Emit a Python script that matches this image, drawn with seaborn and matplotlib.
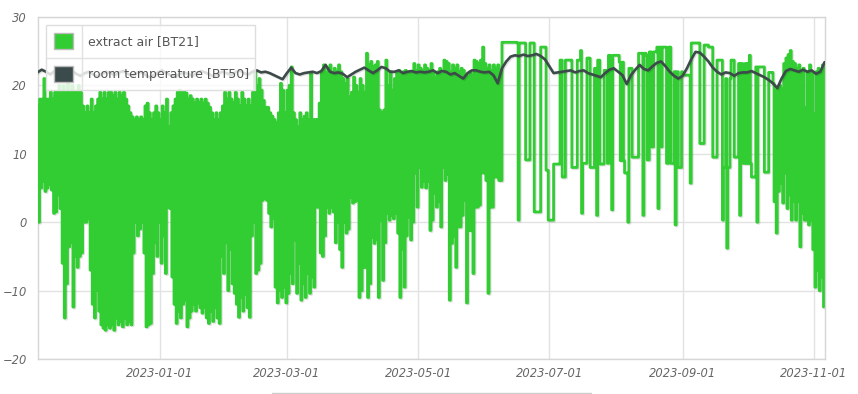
import numpy as np
import pandas as pd
import matplotlib
matplotlib.use("Agg")
import matplotlib.pyplot as plt
import matplotlib.dates as mdates
import matplotlib.patheffects as pe
from matplotlib.patches import Rectangle
from matplotlib.lines import Line2D
import seaborn as sns

# ---------------- data ----------------
# extract air [BT21]: two readings per day (first half / second half of the day), starting 2022-11-05
nov22_a = [17, 18, 18, 21, 18, 18, 19, 18, 19, 19, 20, 19, 20, 19, 22, 19, 20, 19, 19, 20, 19, 17, 16, 17, 16, 18]
nov22_b = [0, 5, 6, 4.5, 5, 5.5, 4.7, 1.3, 1.5, 4, 2, -6, -14, -9, -3.6, -3, -12.4, -5, -6.6, -5, -4.5, 0, 0, 0.5, -7, -12]
dec22_a = [16, 17, 18, 19, 18, 19, 18, 19, 19, 18.5, 19, 18, 19, 18.5, 19, 18, 17, 16, 15.4, 15, 15.4, 15, 15.4, 15, 17, 17.4, 16, 15, 16, 17, 16]
dec22_b = [-14, -10, -13, -15, -15.5, -15.8, -15, -15.5, -15, -15.8, -14, -15, -14.5, -15.3, -14, -15, -14.5, -15, -4.5, 0, -2, -1, 0, -4.5, -15.3, -15, -14.8, -7.5, -3, -5, 0]
jan23_a = [15, 17, 16, 18, 14, 16, 17, 18, 19, 19.3, 19, 19, 18.9, 18, 18.5, 18, 17.4, 18, 17.5, 18, 17.4, 18, 17.4, 16.8, 16, 15, 16, 15, 16, 17, 19]
jan23_b = [-6, -2, -7.5, 2.2, 2, -8, -12, -14.8, -13, -14, -12, -11.4, -15.3, -14, -13, -12, -13, -11.8, -12.5, -13.3, -12.4, -14, -14.8, -13, -14.5, -12.5, -14, -14.8, -5, -7.5, -3]
feb23_a = [18, 19, 18, 17.5, 19, 18, 17, 19, 18, 17, 18, 17, 19, 22.2, 20, 21, 19.3, 17.8, 16.8, 16.8, 16, 15.5, 15, 14.5, 16, 20.3, 19.3, 16]
feb23_b = [-10, -4, -9, -10.4, -12, -13.9, -11, -13, -10.5, -12.5, -13.9, -2, 0, -7.5, -7, -6, 3.2, 3.5, 3.2, 1.3, -0.7, 0.5, -9.5, -11.8, -10, -11, -9.5, -11.8]
mar23_a = [19.3, 20, 22.7, 16, 15, 14, 16, 15, 15.5, 16, 15, 21.8, 15, 15, 15, 17.4, 22, 23, 21.8, 22.5, 23, 21.8, 22.5, 22, 23, 22, 21, 20.3, 21, 18.3, 19]
mar23_b = [-10.4, -7.5, -9, -2.6, -10.4, -6, -11.4, -9, -11, -7.5, -10.4, -8, -9.5, 2.2, 2.2, -4.5, -5, -2, 2.2, 1.3, 2.2, 1.5, -3, 0, -4, -6.6, 0, -1.6, -1, 3.6, 2.8]
apr23_a = [21.2, 20, 19, 21, 20, 19, 24.7, 23, 23.5, 22.7, 23, 23.5, 16.4, 16, 16.4, 23.7, 20, 22, 19.3, 21, 22, 22.2, 21.8, 22, 22.2, 21.8, 22, 22, 23.2, 22.2]
apr23_b = [3, 3.2, -11, -10, -6.6, -6.6, -11, -9, -2.2, -3.1, -2.5, -11, 0.3, -8.5, -3, 1.3, 0.3, 1, 0.5, 1.3, -1.6, -11, -4, -9.5, -2, 0.7, -2.6, 0, 7.2, 2.2]
may23_a = [23, 22.5, 22.2, 23, 22.5, 22.2, 23.2, 22, 21.2, 22, 22.5, 21.5, 23.7, 23.5, 23.2, 22, 23, 22.5, 23, 22, 22.5, 22.2, 21.5, 21.2, 22, 21.5, 23.7, 23.5, 23.2, 23.7, 25.6]
may23_b = [8, 5.1, 6, 5, 6, -1.2, 0.3, 4.2, 2.2, 3, -0.7, 8, 6.1, 7, -11.4, -3.1, -2, -6.6, -0.7, -0.7, 1, 3.2, -11.8, -1.2, -1.2, -7.5, 2.2, 2.2, 2.5, 7.2, 7.2]
jun23_a = [23.2, 22.5, 23, 22.2, 23, 22.5, 23, 22.2, 26.3, 26.3, 26.3, 26.3, 26.3, 26.3, 26.3, 26.2, 26.2, 26.2, 26.2, 9.1, 9.1, 26.2, 26.2, 1.5, 1.5, 1.5, 25.6, 25.6, 25.6, 7.6]
jun23_b = [6.1, -10.4, 2.2, 2.2, 6.6, 6.6, 6.1, 6.1, 26.3, 26.3, 26.3, 26.3, 26.3, 26.3, 26.3, 0.3, 26.2, 26.2, 26.2, 9.1, 9.1, 26.2, 26.2, 1.5, 1.5, 1.5, 25.6, 25.6, 7.6, 0.3]
jul23_a = [0.3, 0.3, 8.5, 8.5, 8.5, 23.7, 6.6, 6.6, 23.7, 23.7, 23.7, 8, 8, 23.7, 23.7, 1.3, 8.6, 8.6, 24, 8, 8, 22.5, 1, 23.7, 8.5, 8.5, 22.2, 8.6, 24.4, 1.8, 24.4]
jul23_b = [0.3, 0.3, 8.5, 8.5, 8.5, 23.7, 6.6, 23.7, 23.7, 23.7, 8, 8, 8, 23.7, 25.1, 8.6, 8.6, 24, 24, 8, 8, 22.5, 23.7, 8.5, 8.5, 22.2, 22.2, 24.4, 8.6, 24.4, 24.4]
aug23_a = [24.4, 24.4, 9, 23.4, 7.2, 7.2, 22.5, 22.5, 9.5, 9.5, 9.5, 24.7, 24.7, 24.7, 24.4, 9.1, 24.9, 11, 24.9, 25.6, 25.6, 11, 25.6, 25.6, 8.6, 25.6, 8.6, 22, 22, 8, 8]
aug23_b = [24.4, 23.4, 9, 9, 7.2, 0, 22.5, 9.5, 9.5, 9.5, 24.7, 24.7, 1, 24.7, 9.1, 24.9, 11, 24.9, 24.9, 2, 25.6, 25.6, 25.6, 8.6, 25.6, 8.6, 8.6, -0.4, 22, 8, 22]
sep23_a = [21.5, 21.5, 21.5, 21.5, 26.2, 26.2, 26.2, 26.2, 11.5, 11.5, 25.9, 25.9, 25.6, 25.6, 9.5, 9.5, 23.7, 23.7, 23.7, 8, 21, 8, 21, 23.7, 9.5, 9.5, 23.2, 23.2, 8.6, 23.2]
sep23_b = [21.5, 21.5, 21.5, 5.7, 26.2, 26.2, 26.2, 26.2, 11.5, 11.5, 25.9, 25.9, 25.6, 25.6, 9.5, 9.5, 23.7, 23.7, 0.3, 8, -3.8, 8, 23.7, 23.7, 9.5, 9.5, 1, 23.2, 8.6, 8.6]
oct23_a = [23.2, 24.4, 6.6, 6.6, 22.7, 22.7, 22.7, 22.7, 7.3, 7.3, 21.9, 21.9, 20.3, 19.3, 19.5, 20, 19.5, 23.2, 24, 24.5, 25.1, 23.5, 23.2, 22.5, 23, 22, 22.5, 16.8, 22, 23, 22]
oct23_b = [8.6, 8.6, 6.6, 6.6, 0, 22.7, 22.7, 22.7, 7.3, 7.3, 21.9, 21.9, 3, -1.6, 4.5, 5.7, 2.8, 7.2, 2, 4, 0.3, 3, 0.3, 3, -3.6, 1.3, 0.3, 0.3, -0.4, 0.3, -4]
nov23_a = [15.9, 22, 22.5, 22, 23]
nov23_b = [-9.5, -7, -10, -8, -12.4]

# room temperature [BT50]: one reading every 2 days, starting 2022-11-05
bt50_q1 = [21.9, 22.3, 22.0, 21.6, 22.1, 21.8, 21.5, 21.9, 22.2, 21.7, 21.4, 21.8, 22.0, 21.6, 21.3, 21.7,
           22.0, 21.8, 21.5, 21.9, 22.1, 21.7, 21.4, 21.8, 22.0, 21.6, 21.2, 21.5, 21.9, 22.2, 21.8, 21.5,
           21.3, 21.6, 21.9, 21.7, 21.4, 21.8, 22.1, 21.9, 21.6, 21.3, 21.7, 22.0, 21.8, 21.5]
bt50_q2 = [21.9, 22.2, 21.8, 21.6, 22.0, 22.2, 21.9, 22.0, 21.8, 21.5, 21.2, 20.9, 21.8, 22.6, 21.8, 21.6,
           21.8, 21.9, 22.0, 21.8, 22.1, 23.0, 22.0, 21.8, 21.9, 21.7, 21.2, 21.6, 22.0, 22.3, 22.6, 22.2,
           21.8, 22.2, 22.7, 22.5, 22.0, 22.0, 22.2, 21.8, 22.0, 22.1, 21.9, 22.0, 21.9, 22.0]
bt50_q3 = [22.2, 21.8, 22.1, 22.0, 21.6, 21.8, 21.4, 21.0, 21.8, 22.2, 22.2, 22.0, 21.9, 22.0, 21.5, 20.3,
           22.5, 23.5, 24.2, 24.4, 24.3, 24.5, 24.3, 24.4, 24.6, 24.3, 23.8, 22.8, 21.8, 21.9, 22.0, 22.1,
           22.2, 21.9, 22.1, 22.2, 21.8, 21.6, 21.4, 21.2, 21.8, 22.3, 22.5, 22.0, 21.5, 20.2]
bt50_q4 = [21.5, 22.3, 23.0, 22.4, 22.2, 22.8, 23.3, 23.5, 22.8, 22.0, 21.4, 21.0, 21.4, 22.5, 23.8, 24.9,
           24.8, 24.2, 23.5, 22.6, 22.0, 21.6, 21.9, 21.8, 21.4, 21.8, 21.9, 21.9, 22.1, 21.8, 21.5, 21.2,
           20.8, 20.3, 19.6, 21.0, 22.1, 22.4, 22.2, 22.0, 22.3, 22.0, 22.2, 21.7, 22.0, 23.4]

# ---------------- build tables ----------------
start = pd.Timestamp("2022-11-05")
bt21_first = (nov22_a + dec22_a + jan23_a + feb23_a + mar23_a + apr23_a + may23_a
              + jun23_a + jul23_a + aug23_a + sep23_a + oct23_a + nov23_a)
bt21_second = (nov22_b + dec22_b + jan23_b + feb23_b + mar23_b + apr23_b + may23_b
               + jun23_b + jul23_b + aug23_b + sep23_b + oct23_b + nov23_b)
n = len(bt21_first)
days = pd.date_range(start, periods=n, freq="D")
times = np.empty(2 * n, dtype="datetime64[ns]")
times[0::2] = days.values
times[1::2] = (days + pd.Timedelta(hours=12)).values
vals = np.empty(2 * n)
vals[0::2] = bt21_first
vals[1::2] = bt21_second
df_bt21 = pd.DataFrame({"time": times, "value": vals})

bt50 = bt50_q1 + bt50_q2 + bt50_q3 + bt50_q4
df_bt50 = pd.DataFrame({"time": pd.date_range(start, periods=len(bt50), freq="2D"), "value": bt50})

# ---------------- figure ----------------
sns.set_style("white")
plt.rcParams["font.family"] = ["DejaVu Sans"]
plt.rcParams["path.simplify"] = False

W, H = 858, 394
fig = plt.figure(figsize=(W / 100, H / 100), dpi=100)
L, R, T, B = 38, 825, 17, 359
ax = fig.add_axes([L / W, 1 - B / H, (R - L) / W, (B - T) / H])

GREEN = "#32cd32"
DARK = "#3c4a4a"
shadow = [pe.SimpleLineShadow(offset=(0.8, -0.8), shadow_color="black", alpha=0.12), pe.Normal()]

sns.lineplot(data=df_bt21, x="time", y="value", ax=ax, color=GREEN, linewidth=2.0,
             drawstyle="steps-post", estimator=None, sort=False, legend=False,
             path_effects=shadow, zorder=3)
sns.lineplot(data=df_bt50, x="time", y="value", ax=ax, color=DARK, linewidth=1.9,
             estimator=None, sort=False, legend=False, path_effects=shadow, zorder=4)

ax.set_xlim(start + pd.Timedelta(days=0.28), start + pd.Timedelta(days=366.2))
ax.set_ylim(-20, 30)
ax.set_yticks([-20, -10, 0, 10, 20, 30])
ax.xaxis.set_major_locator(mdates.MonthLocator(bymonth=[1, 3, 5, 7, 9, 11]))
ax.xaxis.set_major_formatter(mdates.DateFormatter("%Y-%m-%d"))
ax.set_xlabel("")
ax.set_ylabel("")

ax.grid(True, color="#e2e2e2", linewidth=1)
ax.set_axisbelow(True)
for s in ax.spines.values():
    s.set_color("#d6d6d6")
    s.set_linewidth(1)
ax.tick_params(axis="both", length=0, colors="#666666", labelsize=8.3)
ax.tick_params(axis="x", pad=6)
ax.tick_params(axis="y", pad=8)
for lab in ax.get_xticklabels() + ax.get_yticklabels():
    lab.set_fontstyle("italic")


# ---------------- legend (drawn in pixel space) ----------------
def fx(px):
    return px / W


def fy(py):
    return 1 - py / H


fig.patches.append(Rectangle((fx(46), fy(90)), fx(255) - fx(46), fy(25) - fy(90),
                             transform=fig.transFigure, facecolor="white", alpha=0.82,
                             edgecolor="none", zorder=5))
fig.patches.append(Rectangle((fx(46), fy(90)), fx(255) - fx(46), fy(25) - fy(90),
                             transform=fig.transFigure, facecolor="none",
                             edgecolor="#dedede", linewidth=1, zorder=6))
fig.lines.append(Line2D([fx(46), fx(255)], [fy(58), fy(58)], transform=fig.transFigure,
                        color="#e2e2e2", linewidth=1, zorder=6))
fig.lines.append(Line2D([fx(82), fx(82)], [fy(25), fy(90)], transform=fig.transFigure,
                        color="#e2e2e2", linewidth=1, zorder=6))
for (y0, col, label) in [(33, GREEN, "extract air [BT21]"), (66, "#3b4b4b", "room temperature [BT50]")]:
    fig.patches.append(Rectangle((fx(54), fy(y0 + 16)), fx(73) - fx(54), fy(y0) - fy(y0 + 16),
                                 transform=fig.transFigure, facecolor=col,
                                 edgecolor="#bbbbbb", linewidth=1, zorder=7))
    fig.text(fx(88), fy(y0 + 8.5), label, fontsize=9, color="#555555",
             ha="left", va="center", zorder=8)

# navigator edge line at the bottom
fig.lines.append(Line2D([fx(272), fx(591)], [fy(392.5), fy(392.5)], transform=fig.transFigure,
                        color="#cccccc", linewidth=1, zorder=2))

fig.savefig("out.png", dpi=100)
